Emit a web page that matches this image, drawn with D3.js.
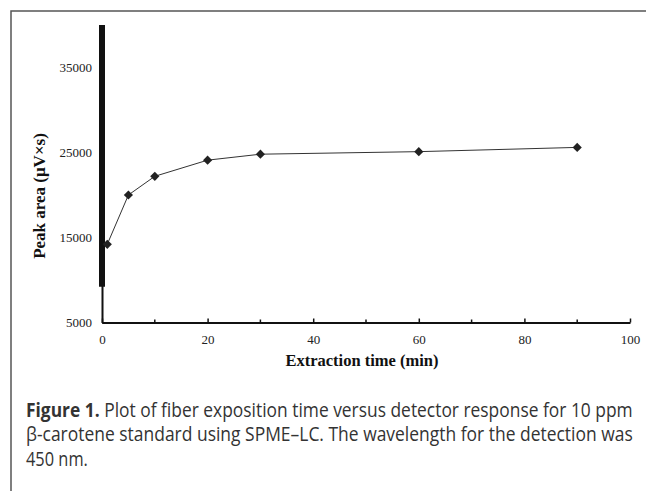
<!DOCTYPE html>
<html><head><meta charset="utf-8">
<script src="https://cdn.jsdelivr.net/npm/d3@7"></script>
<style>body{margin:0;background:#fff}svg{display:block}</style>
</head><body>
<svg id="c" width="646" height="491"></svg>
<script>
const times = [1, 5, 10, 20, 30, 60, 90];
const areas = [14200, 20000, 22200, 24100, 24800, 25100, 25600];
const xTicks = [0, 20, 40, 60, 80, 100];
const xMinorTicks = [10, 30, 50, 70, 90];
const yTicks = [5000, 15000, 25000, 35000];
const xTitle = "Extraction time (min)";
const yTitle = "Peak area (μV\u00d7s)";
const captionLines = [
  ["Figure 1.", " Plot of fiber exposition time versus detector response for 10 ppm"],
  ["", "β-carotene standard using SPME–LC. The wavelength for the detection was"],
  ["", "450 nm."]
];

const svg = d3.select("#c");
const x = d3.scaleLinear().domain([0, 100]).range([102, 630]);
const y = d3.scaleLinear().domain([5000, 40000]).range([322.5, 25]);

// frame
svg.append("path").attr("d", "M11,491V11H646").attr("fill", "none")
  .attr("stroke", "#555").attr("stroke-width", 1.5);

const serif = "'Liberation Serif','Times New Roman',serif";

// x axis
const xg = svg.append("g").attr("transform", `translate(0,${y(5000)})`);
xg.call(d3.axisBottom(x).tickValues(xTicks).tickFormat(d3.format("d")).tickSize(-4).tickPadding(12).tickSizeOuter(0))
  .call(g => g.select(".domain").attr("stroke", "#111").attr("stroke-width", 2))
  .call(g => g.selectAll(".tick line").attr("stroke", "#111").attr("stroke-width", 1.5))
  .call(g => g.selectAll("text").attr("font-family", serif).attr("font-size", 13).attr("fill", "#222"));
xg.selectAll(".minor").data(xMinorTicks).enter().append("line")
  .attr("x1", d => x(d)).attr("x2", d => x(d)).attr("y1", 0).attr("y2", -3)
  .attr("stroke", "#111").attr("stroke-width", 1.5);

// y axis
const yg = svg.append("g").attr("transform", `translate(${x(0)},0)`);
yg.call(d3.axisLeft(y).tickValues(yTicks).tickFormat(d3.format("d")).tickSize(-3).tickPadding(10).tickSizeOuter(0))
  .call(g => g.select(".domain").attr("stroke", "#111").attr("stroke-width", 2))
  .call(g => g.selectAll(".tick line").attr("stroke", "#111").attr("stroke-width", 1.5))
  .call(g => g.selectAll("text").attr("font-family", serif).attr("font-size", 13).attr("fill", "#222"));
// thick segment of y axis
yg.append("line").attr("x1", 0).attr("x2", 0).attr("y1", y(40000)).attr("y2", y(9200))
  .attr("stroke", "#111").attr("stroke-width", 6);

// titles
svg.append("text").attr("x", 362).attr("y", 366).attr("text-anchor", "middle")
  .attr("font-family", serif).attr("font-weight", "bold").attr("font-size", 16.5).attr("fill", "#111")
  .text(xTitle);
svg.append("text").attr("transform", "translate(45,196) rotate(-90)").attr("text-anchor", "middle")
  .attr("font-family", serif).attr("font-weight", "bold").attr("font-size", 17).attr("fill", "#111")
  .text(yTitle);

// line + markers
const pts = times.map((t, i) => [t, areas[i]]);
svg.append("path").datum(pts)
  .attr("d", d3.line().x(d => x(d[0])).y(d => y(d[1])))
  .attr("fill", "none").attr("stroke", "#333").attr("stroke-width", 1);
svg.selectAll(".pt").data(pts).enter().append("path")
  .attr("transform", d => `translate(${x(d[0])},${y(d[1])}) rotate(45)`)
  .attr("d", d3.symbol(d3.symbolSquare, 42)).attr("fill", "#222");

// caption (condensed look via horizontal scaling)
const capFont = "'Open Sans','Noto Sans',sans-serif";
const baselines = [416.5, 441, 466];
const targetW = [607, 607, null];
captionLines.forEach((ln, i) => {
  const t = svg.append("text").attr("x", 0).attr("y", 0)
    .attr("font-family", capFont).attr("font-size", 19.5).attr("fill", "#333");
  if (ln[0]) t.append("tspan").attr("font-weight", "bold").text(ln[0]);
  t.append("tspan").text(ln[1]);
  const w = t.node().getComputedTextLength();
  const s = targetW[i] ? targetW[i] / w : 0.84;
  t.attr("transform", `translate(26,${baselines[i]}) scale(${s},1)`);
});
</script>
</body></html>
